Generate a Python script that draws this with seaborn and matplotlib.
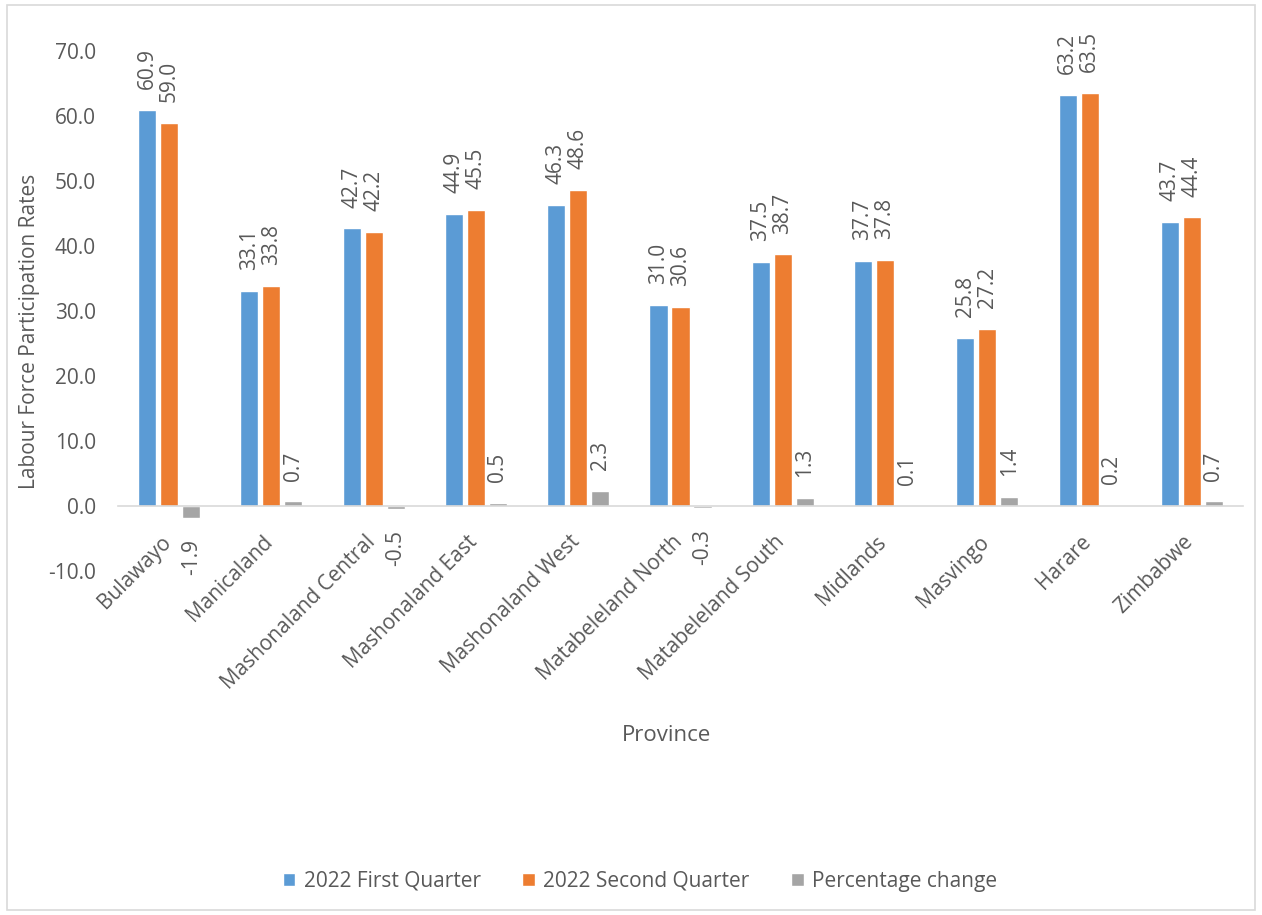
import matplotlib
matplotlib.use("Agg")
import matplotlib.pyplot as plt
import matplotlib.transforms as mtransforms
from matplotlib.patches import Rectangle
import pandas as pd
import seaborn as sns

provinces = ["Bulawayo", "Manicaland", "Mashonaland Central", "Mashonaland East",
             "Mashonaland West", "Matabeleland North", "Matabeleland South",
             "Midlands", "Masvingo", "Harare", "Zimbabwe"]
q1_2022 = [60.9, 33.1, 42.7, 44.9, 46.3, 31.0, 37.5, 37.7, 25.8, 63.2, 43.7]
q2_2022 = [59.0, 33.8, 42.2, 45.5, 48.6, 30.6, 38.7, 37.8, 27.2, 63.5, 44.4]
pct_change = [-1.9, 0.7, -0.5, 0.5, 2.3, -0.3, 1.3, 0.1, 1.4, 0.2, 0.7]
series_names = ["2022 First Quarter", "2022 Second Quarter", "Percentage change"]
y_ticks = [-10, 0, 10, 20, 30, 40, 50, 60, 70]

colors = ["#5B9BD5", "#ED7D31", "#A5A5A5"]
text_color = "#595959"
fs = 15

sns.set_theme(style="white")
plt.rcParams["font.family"] = ["Open Sans", "DejaVu Sans"]

df = pd.DataFrame({
    "Province": provinces * 3,
    "Series": [series_names[0]] * 11 + [series_names[1]] * 11 + [series_names[2]] * 11,
    "Value": q1_2022 + q2_2022 + pct_change,
})

W, H = 1262, 915
fig = plt.figure(figsize=(W / 100, H / 100), dpi=100)
ax = fig.add_axes([118 / W, 1 - 571 / H, (1243 - 118) / W, (571 - 51) / H])

sns.barplot(data=df, x="Province", y="Value", hue="Series", hue_order=series_names,
            order=provinces, palette=colors, width=0.645, gap=0.18,
            errorbar=None, saturation=1, ax=ax)

for cont in ax.containers:
    ax.bar_label(cont, fmt="%.1f", rotation=90, padding=15, fontsize=fs, color=text_color)

ax.set_ylim(-10, 70)
ax.set_yticks(y_ticks)
ax.set_yticklabels([f"{v:.1f}" for v in y_ticks], fontsize=fs, color=text_color)
ax.set_xlim(-0.5, len(provinces) - 0.5)

for side in ["top", "right", "left"]:
    ax.spines[side].set_visible(False)
ax.spines["bottom"].set_position(("data", 0))
ax.spines["bottom"].set_color("#D9D9D9")
ax.spines["bottom"].set_linewidth(1.2)

ax.tick_params(axis="y", length=0, pad=16)
ax.tick_params(axis="x", length=0, pad=14)
# nudge the slanted category labels so their ends sit just under each group
nudge = mtransforms.ScaledTranslation(-0.09, -0.06, fig.dpi_scale_trans)
for lbl in ax.get_xticklabels():
    lbl.set_rotation(45)
    lbl.set_ha("right")
    lbl.set_va("top")
    lbl.set_rotation_mode("anchor")
    lbl.set_fontsize(fs)
    lbl.set_color(text_color)
    lbl.set_transform(lbl.get_transform() + nudge)

ax.set_ylabel("Labour Force Participation Rates", fontsize=15, color=text_color)
ax.yaxis.set_label_coords((40 - 118) / 1125, (571 - 331) / 520)
ax.set_xlabel("Province", fontsize=16, color=text_color)
ax.xaxis.set_label_coords((667 - 118) / 1125, (571 - 725) / 520)

handles, labels = ax.get_legend_handles_labels()
if ax.get_legend() is not None:
    ax.get_legend().remove()
fig.legend(handles, labels, loc="center", bbox_to_anchor=(640 / W, 1 - 881 / H),
           ncol=3, frameon=False, fontsize=fs, handlelength=0.6, handleheight=0.6,
           handletextpad=0.4, columnspacing=2.0, labelcolor=text_color)

fig.patches.append(Rectangle((7 / W, 5 / H), (1255 - 7) / W, (910 - 5) / H,
                             transform=fig.transFigure, fill=False,
                             edgecolor="#D9D9D9", linewidth=1.2))

fig.savefig("out.png", dpi=100, facecolor="white")
